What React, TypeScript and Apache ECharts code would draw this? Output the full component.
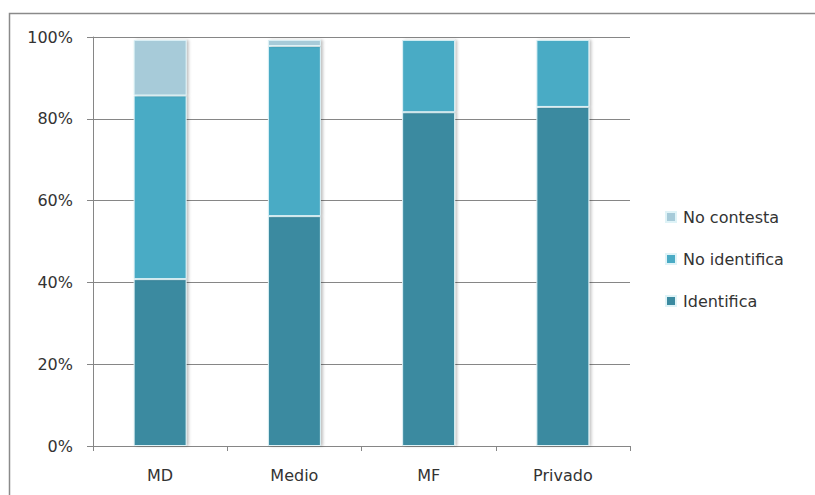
import React, { useEffect, useRef } from "react";
import * as echarts from "echarts";

const categories = ["MD", "Medio", "MF", "Privado"];
const identifica = [40.8, 56.2, 81.6, 82.9];
const noIdentifica = [44.9, 41.6, 17.7, 16.4];
const noContesta = [13.6, 1.5, 0, 0];
const yTicks = [0, 20, 40, 60, 80, 100];
const legendOrder = ["No contesta", "No identifica", "Identifica"];

const FONT = "DejaVu Sans";

export default function App() {
  const ref = useRef<HTMLDivElement>(null);
  useEffect(() => {
    if (!ref.current) return;
    const chart = echarts.init(ref.current, undefined, { renderer: "svg" });
    const barStyle = (color: string) => ({
      color,
      borderColor: "#dff3f7",
      borderWidth: 1,
      shadowColor: "rgba(0,0,0,0.25)",
      shadowBlur: 3,
      shadowOffsetX: 2,
      shadowOffsetY: 0,
    });
    chart.setOption({
      animation: false,
      backgroundColor: "#ffffff",
      textStyle: { fontFamily: FONT },
      graphic: [
        {
          type: "rect",
          shape: { x: 9.5, y: 13.5, width: 900, height: 600 },
          style: { fill: "none", stroke: "#8a8a8a", lineWidth: 1.5 },
          silent: true,
          z: -1,
        },
      ],
      grid: { left: 93, right: 185, top: 37, bottom: 49 },
      legend: {
        data: legendOrder,
        orient: "vertical",
        left: 665,
        top: 209,
        padding: 0,
        itemWidth: 10,
        itemHeight: 10,
        itemGap: 26,
        icon: "rect",
        textStyle: { fontFamily: FONT, fontSize: 16, color: "#333333", padding: [0, 0, 0, 2] },
      },
      xAxis: {
        type: "category",
        data: categories,
        axisLine: { lineStyle: { color: "#868686", width: 1 } },
        axisTick: { show: true, length: 5, inside: false, lineStyle: { color: "#868686" } },
        axisLabel: { fontFamily: FONT, fontSize: 16, color: "#333333", margin: 21 },
      },
      yAxis: {
        type: "value",
        min: yTicks[0],
        max: yTicks[yTicks.length - 1],
        interval: 20,
        axisLine: { show: true, lineStyle: { color: "#868686", width: 1 } },
        axisTick: { show: true, length: 6, lineStyle: { color: "#868686" } },
        splitLine: { show: true, lineStyle: { color: "#868686", width: 1 } },
        axisLabel: {
          fontFamily: FONT,
          fontSize: 16,
          color: "#333333",
          margin: 20,
          formatter: (v: number) => `${v}%`,
        },
      },
      series: [
        {
          name: "Identifica",
          type: "bar",
          stack: "total",
          data: identifica,
          barWidth: 53,
          itemStyle: barStyle("#3b8aa0"),
        },
        {
          name: "No identifica",
          type: "bar",
          stack: "total",
          data: noIdentifica,
          barWidth: 53,
          itemStyle: barStyle("#4aabc5"),
        },
        {
          name: "No contesta",
          type: "bar",
          stack: "total",
          data: noContesta,
          barWidth: 53,
          itemStyle: barStyle("#a7cbd9"),
        },
      ],
    });
    return () => chart.dispose();
  }, []);
  return (
    <div
      ref={ref}
      style={{ position: "fixed", left: 0, top: 0, width: 815, height: 495 }}
    />
  );
}
